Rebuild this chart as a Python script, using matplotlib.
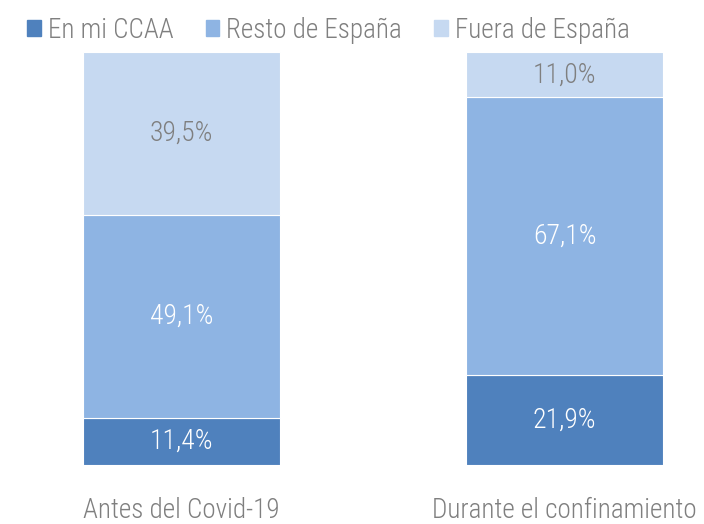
import matplotlib.pyplot as plt
import matplotlib.patches as mpatches

periods = ['Antes del Covid-19', 'Durante el confinamiento']
series = ['En mi CCAA', 'Resto de España', 'Fuera de España']
en_mi_ccaa = [11.4, 21.9]
resto_espana = [49.1, 67.1]
fuera_espana = [39.5, 11.0]

colors = ['#4F81BD', '#8EB4E3', '#C6D9F1']
text_colors = ['white', 'white', '#7F7F7F']

plt.rcParams['font.family'] = ['Roboto Condensed', 'DejaVu Sans']
plt.rcParams['font.weight'] = 300

fig = plt.figure(figsize=(7.04, 5.24), dpi=100)
ax = fig.add_axes([83 / 704, 59 / 524, 580 / 704, 413 / 524])

x = [0, 1]
bottom = [0, 0]
for vals, col, tcol in zip([en_mi_ccaa, resto_espana, fuera_espana], colors, text_colors):
    ax.bar(x, vals, width=0.514, bottom=bottom, color=col, edgecolor='white', linewidth=0.8)
    for xi, v, b in zip(x, vals, bottom):
        ax.text(xi, b + v / 2, f'{v:.1f}%'.replace('.', ','), ha='center', va='center',
                color=tcol, fontsize=20)
    bottom = [b + v for b, v in zip(bottom, vals)]

ax.set_xlim(-0.257, 1.257)
ax.set_ylim(0, 100)
ax.axis('off')

for xi, p in zip(x, periods):
    ax.text(xi, -11, p, ha='center', va='center', color='#7F7F7F', fontsize=19.5,
            clip_on=False)

handles = [mpatches.Patch(color=c, label=s) for c, s in zip(colors, series)]
fig.legend(handles=handles, loc='upper left', bbox_to_anchor=(0.004, 1.015), ncol=3,
           frameon=False, fontsize=19.5, handlelength=0.5, handleheight=0.5,
           handletextpad=0.25, columnspacing=1.2, labelcolor='#7F7F7F')

fig.savefig('out.png', dpi=100)
